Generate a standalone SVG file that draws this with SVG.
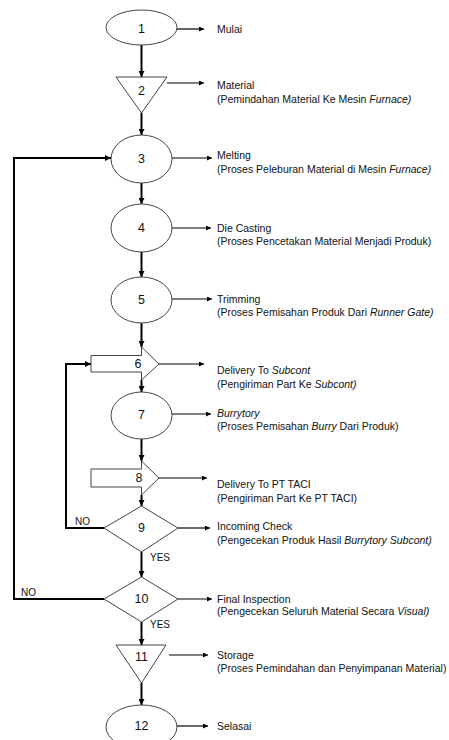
<svg xmlns="http://www.w3.org/2000/svg" width="449" height="740" viewBox="0 0 449 740">
<style>
.shape{fill:#fff;stroke:#444;stroke-width:1}
.num{font-family:"Liberation Sans",Arial,sans-serif;font-size:12.5px;fill:#111;text-anchor:middle;dominant-baseline:central}
.lbl{font-family:"Liberation Sans",Arial,sans-serif;font-size:10.5px;fill:#111}
.small{font-family:"Liberation Sans",Arial,sans-serif;font-size:10px;fill:#111}
.it{font-style:italic}
.flow{fill:none;stroke:#000;stroke-width:2}
.ptr{fill:none;stroke:#000;stroke-width:1.2}
</style>
<defs>
<marker id="ah" viewBox="0 0 10 10" refX="10" refY="5" markerUnits="userSpaceOnUse" markerWidth="7" markerHeight="6" orient="auto"><path d="M0,0 L10,5 L0,10 z" fill="#000"/></marker>
<marker id="ahs" viewBox="0 0 10 10" refX="10" refY="5" markerUnits="userSpaceOnUse" markerWidth="7" markerHeight="5" orient="auto"><path d="M0,0 L10,5 L0,10 z" fill="#000"/></marker>
</defs>

<g id="connectors">
<line class="flow" x1="141.5" y1="45" x2="141.5" y2="77" marker-end="url(#ah)"/>
<line class="flow" x1="141.5" y1="113" x2="141.5" y2="135" marker-end="url(#ah)"/>
<line class="flow" x1="141.5" y1="183" x2="141.5" y2="204" marker-end="url(#ah)"/>
<line class="flow" x1="141.5" y1="252" x2="141.5" y2="277" marker-end="url(#ah)"/>
<line class="flow" x1="141.5" y1="323" x2="141.5" y2="347" marker-end="url(#ah)"/>
<line class="flow" x1="141.5" y1="380" x2="141.5" y2="392" marker-end="url(#ah)"/>
<line class="flow" x1="141.5" y1="439" x2="141.5" y2="461" marker-end="url(#ah)"/>
<line class="flow" x1="141.5" y1="495" x2="141.5" y2="506" marker-end="url(#ah)"/>
<line class="flow" x1="141.5" y1="552" x2="141.5" y2="577" marker-end="url(#ah)"/>
<line class="flow" x1="141.5" y1="622" x2="141.5" y2="645" marker-end="url(#ah)"/>
<line class="flow" x1="141.5" y1="683" x2="141.5" y2="705" marker-end="url(#ah)"/>
<polyline class="flow" points="104,599 14,599 14,158 111,158" marker-end="url(#ah)"/>
<polyline class="flow" points="104,528 66,528 66,364 91,364" marker-end="url(#ah)"/>
<line class="ptr" x1="177" y1="29" x2="204" y2="29" marker-end="url(#ahs)"/>
<line class="ptr" x1="167" y1="83" x2="204" y2="83" marker-end="url(#ahs)"/>
<line class="ptr" x1="172" y1="158" x2="212" y2="158" marker-end="url(#ahs)"/>
<line class="ptr" x1="172" y1="228" x2="211" y2="228" marker-end="url(#ahs)"/>
<line class="ptr" x1="172" y1="299" x2="212" y2="299" marker-end="url(#ahs)"/>
<line class="ptr" x1="159" y1="364" x2="204" y2="364" marker-end="url(#ahs)"/>
<line class="ptr" x1="172" y1="414" x2="211" y2="414" marker-end="url(#ahs)"/>
<line class="ptr" x1="159" y1="478" x2="207" y2="478" marker-end="url(#ahs)"/>
<line class="ptr" x1="178" y1="528" x2="210" y2="528" marker-end="url(#ahs)"/>
<line class="ptr" x1="178" y1="599" x2="212" y2="599" marker-end="url(#ahs)"/>
<line class="ptr" x1="169" y1="655" x2="208" y2="655" marker-end="url(#ahs)"/>
<line class="ptr" x1="177" y1="726" x2="208" y2="726" marker-end="url(#ahs)"/>
<text class="small" x="75" y="525">NO</text>
<text class="small" x="21" y="596">NO</text>
<text class="small" x="150" y="560.5" font-size="8.5">YES</text>
<text class="small" x="150" y="628" font-size="8.5">YES</text>
</g>

<g id="n1">
<ellipse class="shape" cx="141.5" cy="27.5" rx="35.5" ry="17.5"/>
<text class="num" x="141.5" y="29">1</text>
<text class="lbl" x="217" y="33">Mulai</text>
</g>
<g id="n2">
<polygon class="shape" points="116,77 167,77 141.5,113"/>
<text class="num" x="141.5" y="91">2</text>
<text class="lbl" x="217" y="89">Material</text>
<text class="lbl" x="217" y="102.5">(Pemindahan Material Ke Mesin <tspan class="it">Furnace)</tspan></text>
</g>
<g id="n3">
<ellipse class="shape" cx="141.5" cy="159" rx="30.5" ry="24"/>
<text class="num" x="141.5" y="159">3</text>
<text class="lbl" x="217" y="159">Melting</text>
<text class="lbl" x="217" y="172.5">(Proses Peleburan Material di Mesin <tspan class="it">Furnace)</tspan></text>
</g>
<g id="n4">
<ellipse class="shape" cx="141.5" cy="228" rx="30.5" ry="24"/>
<text class="num" x="141.5" y="228">4</text>
<text class="lbl" x="217" y="232">Die Casting</text>
<text class="lbl" x="217" y="245">(Proses Pencetakan Material Menjadi Produk)</text>
</g>
<g id="n5">
<ellipse class="shape" cx="141.5" cy="300" rx="30.5" ry="23"/>
<text class="num" x="141.5" y="300">5</text>
<text class="lbl" x="217" y="303">Trimming</text>
<text class="lbl" x="217" y="316">(Proses Pemisahan Produk Dari <tspan class="it">Runner Gate)</tspan></text>
</g>
<g id="n6">
<polygon class="shape" points="91,355.5 141.5,355.5 141.5,347 159,364 141.5,380 141.5,372 91,372"/>
<text class="num" x="138" y="364">6</text>
<text class="lbl" x="217" y="373.5">Delivery To <tspan class="it">Subcont</tspan></text>
<text class="lbl" x="217" y="388">(Pengiriman Part Ke <tspan class="it">Subcont)</tspan></text>
</g>
<g id="n7">
<ellipse class="shape" cx="141.5" cy="415.5" rx="30.5" ry="23.5"/>
<text class="num" x="141.5" y="415">7</text>
<text class="lbl" x="217" y="417"><tspan class="it">Burrytory</tspan></text>
<text class="lbl" x="217" y="430">(Proses Pemisahan <tspan class="it">Burry</tspan>  Dari Produk)</text>
</g>
<g id="n8">
<polygon class="shape" points="91,469 141.5,469 141.5,461 159,478 141.5,495 141.5,487 91,487"/>
<text class="num" x="139" y="478">8</text>
<text class="lbl" x="217" y="488">Delivery To PT TACI</text>
<text class="lbl" x="217" y="502">(Pengiriman Part Ke PT TACI)</text>
</g>
<g id="n9">
<polygon class="shape" points="141.5,506 178,528 141.5,552 104,528"/>
<text class="num" x="141.5" y="528">9</text>
<text class="lbl" x="217" y="530">Incoming Check</text>
<text class="lbl" x="217" y="544">(Pengecekan Produk Hasil <tspan class="it">Burrytory Subcont)</tspan></text>
</g>
<g id="n10">
<polygon class="shape" points="141.5,577 178,599 141.5,622 104,599"/>
<text class="num" x="141.5" y="599">10</text>
<text class="lbl" x="217" y="602.5">Final Inspection</text>
<text class="lbl" x="217" y="615">(Pengecekan Seluruh Material Secara <tspan class="it">Visual)</tspan></text>
</g>
<g id="n11">
<polygon class="shape" points="116,645 166,645 141.5,683"/>
<text class="num" x="141.5" y="657">11</text>
<text class="lbl" x="217" y="659">Storage</text>
<text class="lbl" x="217" y="671.5">(Proses Pemindahan dan Penyimpanan Material)</text>
</g>
<g id="n12">
<ellipse class="shape" cx="141.5" cy="727" rx="35.5" ry="22"/>
<text class="num" x="141.5" y="726">12</text>
<text class="lbl" x="217" y="730">Selasai</text>
</g>
</svg>
